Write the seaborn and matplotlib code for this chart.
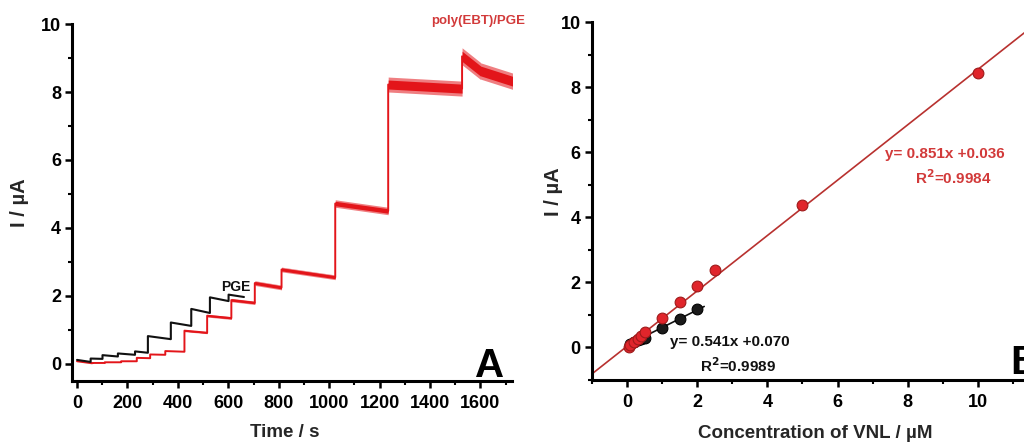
import numpy as np
import pandas as pd
import matplotlib
matplotlib.use("Agg")
import matplotlib.pyplot as plt
import seaborn as sns
from matplotlib.ticker import MultipleLocator

# ---------------- data: panel A (amperometric steps) ----------------
red_t_start = [0, 60, 110, 175, 237, 290, 350, 426, 516, 612, 705, 811, 1024, 1234, 1527, 1600]
red_t_stop = 1735
red_level_start = [0.08, 0.03, 0.05, 0.08, 0.18, 0.28, 0.38, 0.98, 1.42, 1.88, 2.38, 2.78, 4.72, 8.22, 9.05, 8.62]
red_level_end = [0.02, 0.03, 0.05, 0.08, 0.17, 0.27, 0.36, 0.92, 1.35, 1.80, 2.25, 2.55, 4.50, 8.10, 8.62, 8.30]
red_noise = [0.0, 0.0, 0.0, 0.0, 0.0, 0.0, 0.0, 0.03, 0.04, 0.05, 0.07, 0.07, 0.11, 0.22, 0.25, 0.24]

blk_t_start = [0, 54, 101, 162, 230, 281, 372, 453, 527, 601]
blk_t_stop = 662
blk_level_start = [0.12, 0.16, 0.26, 0.31, 0.37, 0.82, 1.22, 1.62, 1.96, 2.04]
blk_level_end = [0.06, 0.15, 0.22, 0.27, 0.33, 0.73, 1.12, 1.50, 1.85, 1.97]

# ---------------- data: panel B (calibration) ----------------
conc_red = [0.05, 0.1, 0.2, 0.3, 0.4, 0.5, 1.0, 1.5, 2.0, 2.5, 5.0, 10.0]
cur_red = [0.02, 0.08, 0.17, 0.27, 0.36, 0.46, 0.90, 1.39, 1.89, 2.38, 4.38, 8.42]
conc_blk = [0.1, 0.2, 0.3, 0.4, 0.5, 1.0, 1.5, 2.0]
cur_blk = [0.12, 0.17, 0.23, 0.27, 0.30, 0.59, 0.86, 1.18]
fit_red = (0.851, 0.036)
fit_blk = (0.541, 0.070)
fit_red_range = [-1.0, 11.5]
fit_blk_range = [0.05, 2.2]

RED = "#e3151a"
RED_TXT = "#d23a3a"
RED_FIT = "#b8312f"
BLACK = "#111111"

sns.set_theme(style="ticks")
plt.rcParams["font.family"] = ["Liberation Sans", "DejaVu Sans"]
plt.rcParams["font.weight"] = "bold"
plt.rcParams["axes.labelweight"] = "bold"
plt.rcParams["axes.linewidth"] = 2.2
plt.rcParams["xtick.major.width"] = 1.8
plt.rcParams["ytick.major.width"] = 1.8
plt.rcParams["xtick.minor.width"] = 1.5
plt.rcParams["ytick.minor.width"] = 1.5
plt.rcParams["xtick.major.size"] = 5
plt.rcParams["ytick.major.size"] = 5
plt.rcParams["xtick.minor.size"] = 3
plt.rcParams["ytick.minor.size"] = 3
plt.rcParams["xtick.color"] = "black"
plt.rcParams["ytick.color"] = "black"
plt.rcParams["axes.edgecolor"] = "black"


def step_frame(t_start, t_stop, lv_start, lv_end, name):
    rows = []
    ends = list(t_start[1:]) + [t_stop]
    for t0, t1, a, b in zip(t_start, ends, lv_start, lv_end):
        rows.append((t0, a, name))
        rows.append((t1, b, name))
    return pd.DataFrame(rows, columns=["t", "I", "series"])


fig = plt.figure(figsize=(10.24, 4.43), dpi=100)
axA = fig.add_axes([0.0703, 0.140, 0.4297, 0.8058])
axB = fig.add_axes([0.578, 0.1422, 0.4285, 0.8081])

# ---------------- panel A ----------------
df_red = step_frame(red_t_start, red_t_stop, red_level_start, red_level_end, "poly(EBT)/PGE")
df_blk = step_frame(blk_t_start, blk_t_stop, blk_level_start, blk_level_end, "PGE")

red_ends = list(red_t_start[1:]) + [red_t_stop]
for t0, t1, a, b, n in zip(red_t_start, red_ends, red_level_start, red_level_end, red_noise):
    if n > 0:
        axA.fill_between([t0, t1], [a - n, b - n], [a + n, b + n], color=RED, alpha=0.55,
                         lw=0, zorder=2)
        m = 0.6 * n
        axA.fill_between([t0, t1], [a - m, b - m], [a + m, b + m], color=RED, lw=0, zorder=2)

sns.lineplot(data=df_red, x="t", y="I", color=RED, lw=1.4, estimator=None, sort=False,
             legend=False, ax=axA, zorder=3)
sns.lineplot(data=df_blk, x="t", y="I", color=BLACK, lw=1.5, estimator=None, sort=False,
             legend=False, ax=axA, zorder=4)

axA.set_xlim(-20, 1725)
axA.set_ylim(-0.5, 10)
axA.set_xticks(np.arange(0, 1601, 200))
axA.xaxis.set_minor_locator(MultipleLocator(100))
axA.set_yticks(np.arange(0, 10.1, 2))
axA.yaxis.set_minor_locator(MultipleLocator(1))
axA.set_xlabel("Time / s", fontsize=13.5, fontweight="bold")
axA.set_ylabel("I / µA", fontsize=14.5, fontweight="bold")
axA.xaxis.set_label_coords(0.484, -0.12)
axA.yaxis.set_label_coords(-0.098, 0.50)
axA.tick_params(labelsize=13, pad=3)
axA.tick_params(axis="x", pad=5)
for lab in axA.get_xticklabels() + axA.get_yticklabels():
    lab.set_fontweight("bold")
sns.despine(ax=axA)

axA.text(1592, 10.1, "poly(EBT)/PGE", color=RED_TXT, fontsize=9.5, fontweight="bold",
         ha="center", va="center", clip_on=False)
axA.text(631, 2.26, "PGE", color=BLACK, fontsize=10, fontweight="bold", ha="center", va="center")
axA.text(1692, -0.38, "A", color="black", fontsize=29, fontweight="bold", ha="right",
         va="baseline", clip_on=False)

# ---------------- panel B ----------------
xr = np.array(fit_red_range)
xb = np.array(fit_blk_range)
sns.lineplot(x=xr, y=fit_red[0] * xr + fit_red[1], color=RED_FIT, lw=1.2, ax=axB, zorder=2)
sns.lineplot(x=xb, y=fit_blk[0] * xb + fit_blk[1], color=BLACK, lw=1.2, ax=axB, zorder=3)
sns.scatterplot(x=conc_blk, y=cur_blk, color="#1a1a1a", edgecolor="#000000", linewidth=0.8,
                s=60, ax=axB, zorder=4)
sns.scatterplot(x=conc_red, y=cur_red, color="#e0252b", edgecolor="#9e1a1a", linewidth=0.8,
                s=60, ax=axB, zorder=5)

axB.set_xlim(-1, 11.5)
axB.set_ylim(-1, 10)
axB.set_xticks(np.arange(0, 10.1, 2))
axB.xaxis.set_minor_locator(MultipleLocator(1))
axB.set_yticks(np.arange(0, 10.1, 2))
axB.yaxis.set_minor_locator(MultipleLocator(1))
axB.set_xlabel("Concentration of VNL / µM", fontsize=13.5, fontweight="bold")
axB.set_ylabel("I / µA", fontsize=14.5, fontweight="bold")
axB.xaxis.set_label_coords(0.508, -0.125)
axB.yaxis.set_label_coords(-0.066, 0.525)
axB.tick_params(labelsize=13, pad=3)
axB.tick_params(axis="x", pad=5)
for lab in axB.get_xticklabels() + axB.get_yticklabels():
    lab.set_fontweight("bold")
sns.despine(ax=axB)

axB.text(9.06, 5.95, f"y= {fit_red[0]:.3f}x +{fit_red[1]:.3f}", color=RED_TXT, fontsize=11,
         fontweight="bold", ha="center", va="center")
axB.text(9.29, 5.21, "R$^{2}$=0.9984", color=RED_TXT, fontsize=11, fontweight="bold",
         ha="center", va="center")
axB.text(2.93, 0.18, f"y= {fit_blk[0]:.3f}x +{fit_blk[1]:.3f}", color=BLACK, fontsize=11,
         fontweight="bold", ha="center", va="center")
axB.text(3.16, -0.55, "R$^{2}$=0.9989", color=BLACK, fontsize=11, fontweight="bold",
         ha="center", va="center")
axB.text(10.91, -0.83, "B", color="black", fontsize=29, fontweight="bold", ha="left",
         va="baseline", clip_on=False)

fig.savefig("out.png", dpi=100)
